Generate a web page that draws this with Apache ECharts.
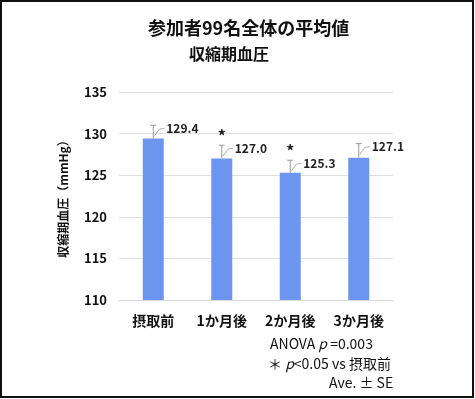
<!DOCTYPE html>
<html>
<head>
<meta charset="utf-8">
<script src="https://cdn.jsdelivr.net/npm/echarts@6/dist/echarts.min.js"></script>
<style>
  html, body { margin: 0; padding: 0; background: #fff; }
  #main { width: 475px; height: 399px; }
</style>
</head>
<body>
<div id="main"></div>
<script>
// 収縮期血圧 (mmHg) の平均値と標準誤差
const categories = ['摂取前', '1か月後', '2か月後', '3か月後'];
const means = [129.4, 127.0, 125.3, 127.1];
const errors = [1.6, 1.6, 1.5, 1.7];
const stars = [false, true, true, false];
const FONT = '"Noto Sans CJK JP", "Noto Sans", sans-serif';

const chart = echarts.init(document.getElementById('main'));

function renderError(params, api) {
  const i = api.value(0);
  const base = api.coord([i, api.value(1)]);
  const top = api.coord([i, api.value(1) + api.value(2)]);
  const x = base[0], y = top[1];
  const children = [
    { type: 'line', shape: { x1: x, y1: base[1], x2: x, y2: y }, style: { stroke: '#9a9a9a', lineWidth: 1 } },
    { type: 'line', shape: { x1: x - 3, y1: y, x2: x + 3, y2: y }, style: { stroke: '#9a9a9a', lineWidth: 1 } },
    { type: 'polyline', shape: { points: [[x + 1, y + 11], [x + 6, y + 4], [x + 11, y + 3]] }, style: { stroke: '#b0b0b0', lineWidth: 1, fill: null } },
    { type: 'text', style: { x: x + 13, y: y + 3, text: api.value(1).toFixed(1), font: 'bold 12px ' + FONT, fill: '#222', verticalAlign: 'middle' } }
  ];
  if (stars[i]) {
    children.push({ type: 'text', style: { x: x, y: y - 9, text: '*', font: 'bold 16px ' + FONT, fill: '#222', align: 'center', verticalAlign: 'middle' } });
  }
  return { type: 'group', children: children };
}

chart.setOption({
  animation: false,
  backgroundColor: '#fff',
  grid: { left: 119, right: 82, top: 92, bottom: 99 },
  xAxis: {
    type: 'category',
    data: categories,
    axisLine: { lineStyle: { color: '#d9d9d9' } },
    axisTick: { show: false },
    axisLabel: { color: '#111', fontSize: 14, fontWeight: 'bold', fontFamily: FONT, margin: 14 }
  },
  yAxis: {
    type: 'value',
    min: 110,
    max: 135,
    interval: 5,
    name: '収縮期血圧（mmHg）',
    nameLocation: 'middle',
    nameRotate: 90,
    nameGap: 50,
    nameTextStyle: { color: '#111', fontSize: 12, fontWeight: 'bold', fontFamily: FONT },
    axisLine: { show: false },
    axisTick: { show: false },
    axisLabel: { color: '#111', fontSize: 13, fontWeight: 'bold', fontFamily: FONT, margin: 12 },
    splitLine: { lineStyle: { color: '#e0e0e0' } }
  },
  series: [
    {
      type: 'bar',
      data: means,
      barWidth: 21,
      itemStyle: { color: '#6b95ef' }
    },
    {
      type: 'custom',
      renderItem: renderError,
      data: means.map((m, i) => [i, m, errors[i]]),
      z: 5
    }
  ],
  graphic: [
    { type: 'rect', shape: { x: 1, y: 1, width: 472, height: 396 }, style: { fill: null, stroke: '#111', lineWidth: 2 } },
    { type: 'text', left: 148, top: 19, style: { text: '参加者99名全体の平均値', font: 'bold 18px ' + FONT, fill: '#111' } },
    { type: 'text', left: 189, top: 46, style: { text: '収縮期血圧', font: 'bold 16px ' + FONT, fill: '#111' } },
    { type: 'text', left: 270, top: 337, style: {
      text: 'ANOVA {i|p} =0.003', font: '14px ' + FONT, fill: '#111',
      rich: { i: { fontStyle: 'italic', fontSize: 14, fontFamily: FONT } }
    } },
    { type: 'text', left: 268, top: 357, style: {
      text: '＊ {i|p}<0.05 vs 摂取前', font: '14px ' + FONT, fill: '#111',
      rich: { i: { fontStyle: 'italic', fontSize: 14, fontFamily: FONT } }
    } },
    { type: 'text', left: 329, top: 376, style: { text: 'Ave. ± SE', font: '14px ' + FONT, fill: '#111' } }
  ]
});
</script>
</body>
</html>
